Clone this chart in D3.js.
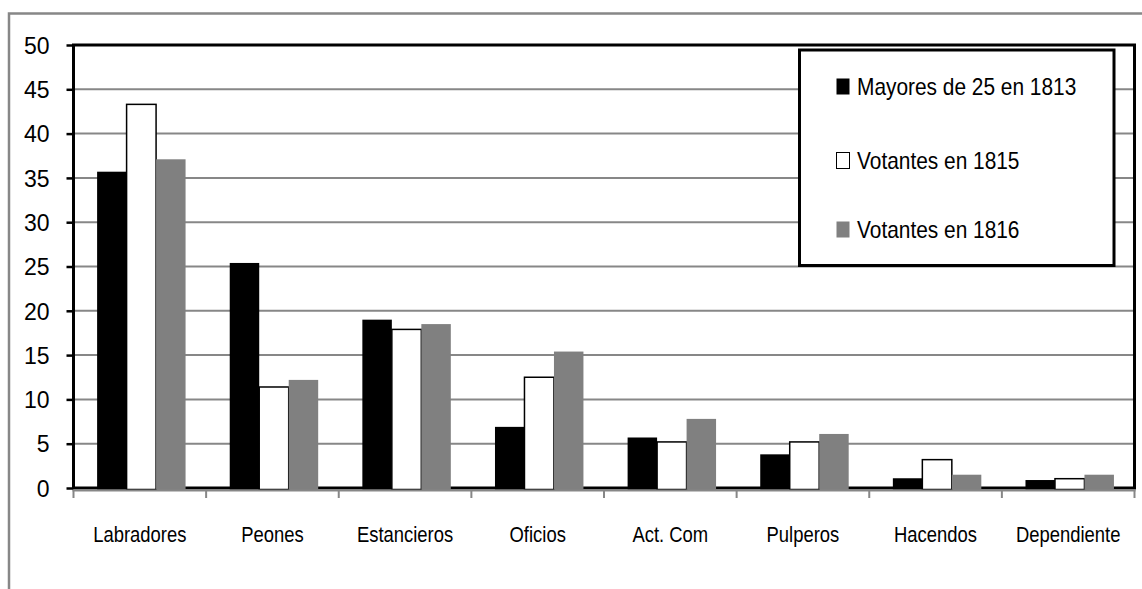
<!DOCTYPE html>
<html>
<head>
<meta charset="utf-8">
<script src="https://cdn.jsdelivr.net/npm/d3@7"></script>
<style>
  html, body { margin: 0; padding: 0; background: #fff; }
  svg { display: block; }
  text { font-family: "Liberation Sans", Arial, sans-serif; fill: #000; }
</style>
</head>
<body>
<script>
// Occupational categories of the electorate
const categories = ["Labradores", "Peones", "Estancieros", "Oficios", "Act. Com", "Pulperos", "Hacendos", "Dependiente"];
const seriesNames = ["Mayores de 25 en 1813", "Votantes en 1815", "Votantes en 1816"];
const mayores1813 = [35.7, 25.4, 19.0, 6.9, 5.7, 3.8, 1.1, 0.9];
const votantes1815 = [43.3, 11.4, 17.9, 12.5, 5.2, 5.2, 3.2, 1.05];
const votantes1816 = [37.1, 12.2, 18.5, 15.4, 7.8, 6.1, 1.5, 1.5];
const yTicks = [0, 5, 10, 15, 20, 25, 30, 35, 40, 45, 50];

const seriesValues = [mayores1813, votantes1815, votantes1816];
const fills = ["#000000", "#ffffff", "#808080"];

const W = 1142, H = 589;
const plot = { left: 73.5, right: 1134.5, top: 45, bottom: 488 };

const svg = d3.select("body").append("svg").attr("width", W).attr("height", H);

// outer chart border (runs off the right and bottom edges)
svg.append("path")
  .attr("d", `M9,${H + 5} V13.5 H${W + 5}`)
  .attr("fill", "none").attr("stroke", "#878787").attr("stroke-width", 2.5);

const x0 = d3.scaleBand().domain(categories).range([plot.left, plot.right]);
const bw = x0.bandwidth();
const x1 = d3.scaleBand().domain(d3.range(seriesNames.length)).range([bw * 0.178, bw * 0.845]);
const y = d3.scaleLinear().domain([0, 50]).range([plot.bottom, plot.top]);

// horizontal gridlines
svg.append("g").selectAll("line")
  .data(yTicks.filter(t => t > 0 && t < 50))
  .join("line")
  .attr("x1", plot.left).attr("x2", plot.right)
  .attr("y1", d => y(d)).attr("y2", d => y(d))
  .attr("stroke", "#878787").attr("stroke-width", 2);

// plot frame
svg.append("rect")
  .attr("x", plot.left).attr("y", plot.top)
  .attr("width", plot.right - plot.left).attr("height", plot.bottom - plot.top)
  .attr("fill", "none").attr("stroke", "#000").attr("stroke-width", 3);

// y axis ticks and labels
const yAxis = svg.append("g")
  .attr("transform", `translate(${plot.left},0)`)
  .call(d3.axisLeft(y).tickValues(yTicks).tickSize(7).tickPadding(17).tickFormat(d3.format("d")));
yAxis.select(".domain").remove();
yAxis.selectAll(".tick line").attr("stroke", "#000").attr("stroke-width", 2.5);
yAxis.selectAll(".tick text")
  .attr("font-size", 23).attr("dy", "0.36em")
  .style("font-family", "'Liberation Sans', Arial, sans-serif");

// bars
const groups = svg.append("g").selectAll("g")
  .data(categories)
  .join("g")
  .attr("transform", d => `translate(${x0(d)},0)`);

groups.selectAll("rect")
  .data((c, i) => seriesValues.map((vals, s) => ({ s, v: vals[i] })))
  .join("rect")
  .attr("x", d => x1(d.s))
  .attr("y", d => y(d.v))
  .attr("width", x1.bandwidth())
  .attr("height", d => y(0) - y(d.v) + 1.5)
  .attr("fill", d => fills[d.s])
  .attr("stroke", d => d.s === 1 ? "#000" : "none")
  .attr("stroke-width", 1.5);

// category axis line and boundary ticks
const xAxis = svg.append("g");
xAxis.append("line")
  .attr("x1", plot.left - 1).attr("x2", plot.right + 1)
  .attr("y1", y(0) + 2.5).attr("y2", y(0) + 2.5)
  .attr("stroke", "#878787").attr("stroke-width", 2);
const bounds = categories.map(c => x0(c)).concat([plot.right]);
xAxis.selectAll("line.tick")
  .data(bounds)
  .join("line").attr("class", "tick")
  .attr("x1", d => d).attr("x2", d => d)
  .attr("y1", y(0) + 2).attr("y2", y(0) + 10)
  .attr("stroke", "#878787").attr("stroke-width", 2);

xAxis.selectAll("g.lbl")
  .data(categories)
  .join("g").attr("class", "lbl")
  .attr("transform", d => `translate(${x0(d) + bw / 2},542)`)
  .append("text")
  .attr("transform", "scale(0.82,1)")
  .attr("text-anchor", "middle")
  .attr("font-size", 22.5)
  .text(d => d);

// legend
const legend = svg.append("g");
legend.append("rect")
  .attr("x", 799.5).attr("y", 50).attr("width", 314.5).attr("height", 215.5)
  .attr("fill", "#fff").attr("stroke", "#000").attr("stroke-width", 3);

const legendBaselines = [95, 169, 238];
const items = legend.selectAll("g.item")
  .data(seriesNames)
  .join("g").attr("class", "item")
  .attr("transform", (d, i) => `translate(836,${legendBaselines[i]})`);
items.append("rect")
  .attr("x", 0.5).attr("y", -16.5).attr("width", 13).attr("height", 16)
  .attr("fill", (d, i) => fills[i])
  .attr("stroke", (d, i) => i === 1 ? "#000" : "none").attr("stroke-width", 1);
items.append("text")
  .attr("transform", "translate(21,0) scale(0.87,1)")
  .attr("font-size", 24)
  .text(d => d);
</script>
</body>
</html>
